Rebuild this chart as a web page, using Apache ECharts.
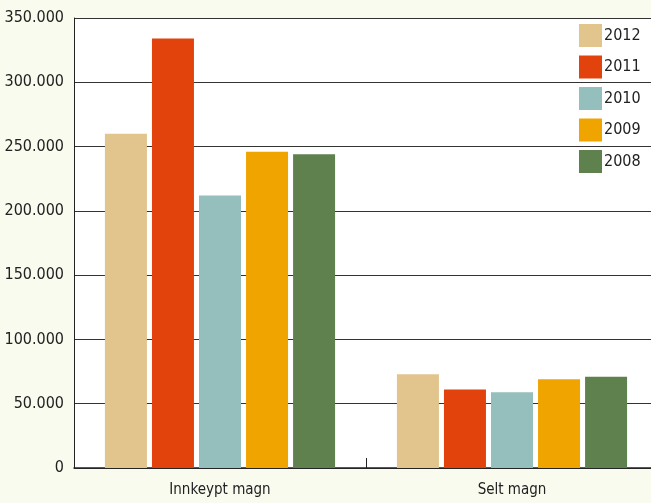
<!DOCTYPE html>
<html><head><meta charset="utf-8">
<script src="https://cdn.jsdelivr.net/npm/echarts@6/dist/echarts.min.js"></script>
<style>html,body{margin:0;padding:0;background:#f8fbee;}#c{width:651px;height:503px;}</style>
</head><body><div id="c"></div>
<script>
var categories = ['Innkeypt magn', 'Selt magn'];
var years = ['2012', '2011', '2010', '2009', '2008'];
var v2012 = [260000, 73000];
var v2011 = [334000, 61000];
var v2010 = [212000, 59000];
var v2009 = [246000, 69000];
var v2008 = [244000, 71000];
var colors = ['#e2c48d', '#e2420b', '#94bfbc', '#f0a400', '#5f814d'];
var values = [v2012, v2011, v2010, v2009, v2008];
var font = '"DejaVu Sans Condensed", "Liberation Sans Narrow", sans-serif';
var chart = echarts.init(document.getElementById('c'));
chart.setOption({
  backgroundColor: '#f8fbee',
  animation: false,
  grid: { left: 74, width: 584, top: 18, height: 450, show: true, backgroundColor: '#ffffff', borderWidth: 0, containLabel: false, outerBoundsMode: 'none' },
  legend: {
    orient: 'vertical', left: 579, top: 24, padding: 0, itemWidth: 23, itemHeight: 23, itemGap: 8.5,
    icon: 'rect',
    textStyle: { fontFamily: font, fontSize: 16, color: '#222', padding: [0, 0, 0, -3] },
    data: years
  },
  xAxis: {
    type: 'category', data: categories,
    axisLine: { lineStyle: { color: '#222', width: 1.5 } },
    axisTick: { show: true, inside: true, length: 10, lineStyle: { color: '#222' } },
    axisLabel: { fontFamily: font, fontSize: 15, color: '#222', margin: 15 }
  },
  yAxis: {
    type: 'value', min: 0, max: 350000, interval: 50000,
    axisLine: { show: true, lineStyle: { color: '#222' } },
    axisTick: { show: false },
    splitLine: { lineStyle: { color: '#333', width: 1 } },
    axisLabel: {
      fontFamily: font, fontSize: 16, color: '#222', margin: 10,
      formatter: function (v) { return String(v).replace(/\B(?=(\d{3})+(?!\d))/g, '.'); }
    }
  },
  series: years.map(function (y, i) {
    return { name: y, type: 'bar', data: values[i], barWidth: 42, barGap: '12%',
      itemStyle: { color: colors[i] } };
  })
});
</script></body></html>
